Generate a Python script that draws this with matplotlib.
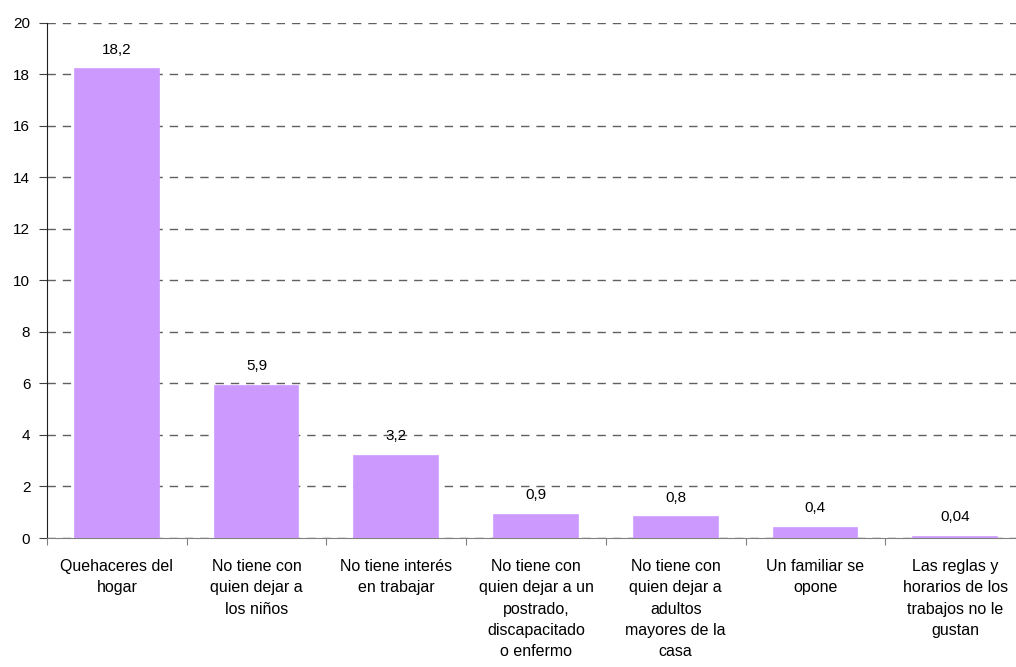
import matplotlib
matplotlib.use("Agg")
import matplotlib.pyplot as plt
import numpy as np

categories = [
    "Quehaceres del\nhogar",
    "No tiene con\nquien dejar a\nlos niños",
    "No tiene interés\nen trabajar",
    "No tiene con\nquien dejar a un\npostrado,\ndiscapacitado\no enfermo",
    "No tiene con\nquien dejar a\nadultos\nmayores de la\ncasa",
    "Un familiar se\nopone",
    "Las reglas y\nhorarios de los\ntrabajos no le\ngustan",
]
values = [18.2, 5.9, 3.2, 0.9, 0.8, 0.4, 0.04]
value_labels = ["18,2", "5,9", "3,2", "0,9", "0,8", "0,4", "0,04"]
yticks = [0, 2, 4, 6, 8, 10, 12, 14, 16, 18, 20]

plt.rcParams['font.family'] = ['Liberation Sans', 'DejaVu Sans']

fig = plt.figure(figsize=(10.16, 6.67), dpi=100)
ax = fig.add_axes([47/1016, (667-538)/667, (1025-47)/1016, (538-22.7)/667])

x = np.arange(len(categories))
ax.bar(x, values, width=0.6, color="#CC99FF", edgecolor="#CC99FF",
       linewidth=1.2, zorder=3)

ax.set_xlim(-0.5, len(categories) - 0.5)
ax.set_ylim(0, 20)
ax.set_yticks(yticks)
ax.set_yticklabels([str(t) for t in yticks], fontsize=11)
ax.yaxis.grid(True, linestyle=(0, (6, 5)), color="#606060", linewidth=1.0, zorder=0)
ax.set_axisbelow(True)

ax.set_xticks(np.arange(len(categories) + 1) - 0.5)
ax.set_xticklabels([])
ax.tick_params(axis='x', direction='out', length=5, color="#808080")
ax.tick_params(axis='y', direction='out', length=6, pad=6, color="#404040")

for xi, lab in zip(x, categories):
    ax.annotate(lab, xy=(xi, 0), xycoords='data', xytext=(0, -15),
                textcoords='offset points', ha='center', va='top',
                fontsize=11.5, linespacing=1.53)

for xi, v, lab in zip(x, values, value_labels):
    ax.annotate(lab, xy=(xi, v), xytext=(0, 9), textcoords='offset points',
                ha='center', va='bottom', fontsize=11)

for s in ['top', 'right']:
    ax.spines[s].set_visible(False)
ax.spines['left'].set_color("#202020")
ax.spines['bottom'].set_color("#808080")

fig.savefig("out.png", dpi=100)
